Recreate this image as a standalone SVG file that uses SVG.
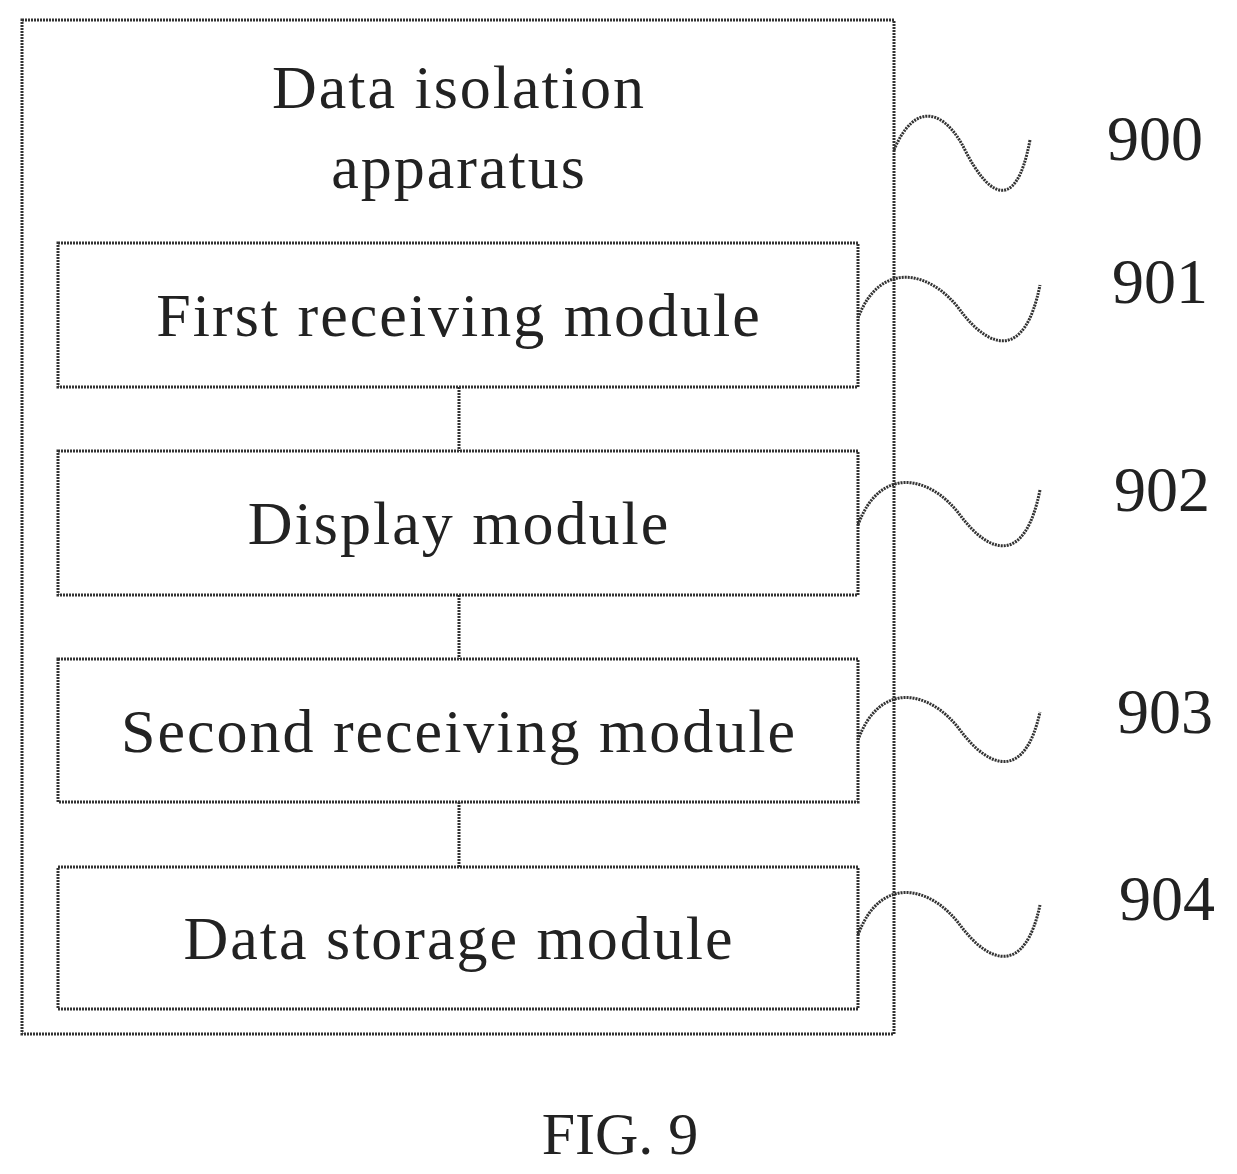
<svg xmlns="http://www.w3.org/2000/svg" width="1237" height="1174" viewBox="0 0 1237 1174">
<style>
.b{fill:none;stroke:#333;stroke-width:3;stroke-dasharray:2 1}
.t{font-family:"Liberation Serif",serif;font-size:62px;letter-spacing:2px;fill:#222;text-anchor:middle}
.n{font-family:"Liberation Serif",serif;font-size:64px;fill:#222;text-anchor:middle}
</style>
<rect width="1237" height="1174" fill="#fff"/>
<g id="apparatus"><rect class="b" x="22" y="20" width="872" height="1014"/>
<text class="t" x="459" y="108">Data isolation</text><text class="t" x="459" y="188">apparatus</text></g>
<g id="m901"><rect class="b" x="58" y="243" width="800" height="144"/><text class="t" x="459" y="336">First receiving module</text></g>
<g id="m902"><rect class="b" x="58" y="451" width="800" height="144"/><text class="t" x="459" y="544">Display module</text></g>
<g id="m903"><rect class="b" x="58" y="659" width="800" height="143"/><text class="t" x="459" y="752">Second receiving module</text></g>
<g id="m904"><rect class="b" x="58" y="867" width="800" height="142"/><text class="t" x="459" y="959">Data storage module</text></g>
<g id="connectors" class="b">
<line x1="459" y1="387" x2="459" y2="451"/><line x1="459" y1="595" x2="459" y2="659"/><line x1="459" y1="802" x2="459" y2="867"/>
<path d="M894,150 C915,100 945,110 965,150 S1015,220 1030,140"/>
<path d="M858,318 C880,260 930,270 960,310 S1025,360 1040,285"/>
<path d="M858,525 C880,465 930,475 960,515 S1025,565 1040,490"/>
<path d="M858,740 C880,680 930,690 960,730 S1025,780 1040,712"/>
<path d="M858,935 C880,875 930,885 960,925 S1025,975 1040,905"/>
</g>
<g id="labels">
<text class="n" x="1155" y="160">900</text><text class="n" x="1160" y="303">901</text><text class="n" x="1162" y="511">902</text><text class="n" x="1165" y="733">903</text><text class="n" x="1167" y="920">904</text>
<text class="n" x="620" y="1154" style="font-size:60px">FIG. 9</text></g>
</svg>
